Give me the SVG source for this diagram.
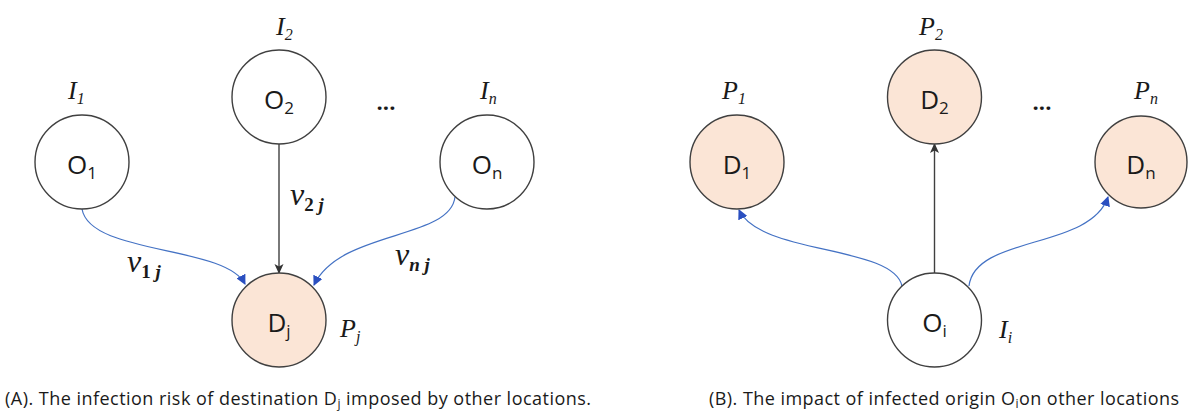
<svg xmlns="http://www.w3.org/2000/svg" width="1188" height="414" viewBox="0 0 1188 414">
  <style>
    .node { stroke: #404040; stroke-width: 1.4; }
    .o { fill: #ffffff; }
    .d { fill: #fbe5d6; }
    .lbl { font-family: "Open Sans", "Liberation Sans", sans-serif; font-size: 26px; fill: #1a1a1a; text-anchor: middle; }
    .sub { font-size: 17px; }
    .math { font-family: "Liberation Serif", serif; font-style: italic; font-size: 26px; fill: #1a1a1a; }
    .msub { font-size: 16px; }
    .vv { font-family: "Liberation Serif", serif; font-style: italic; font-size: 32px; fill: #1a1a1a; }
    .vsub { font-family: "Liberation Serif", serif; font-size: 19px; font-style: normal; font-weight: bold; }
    .vsubi { font-style: italic; }
    .cap { font-family: "Open Sans", "Liberation Sans", sans-serif; font-size: 18px; fill: #1a1a1a; }
    .capsub { font-size: 12px; }
    .dots { font-family: "Open Sans", "Liberation Sans", sans-serif; font-size: 22px; font-weight: bold; fill: #1a1a1a; text-anchor: middle; }
    .blue { fill: none; stroke: #4472c4; stroke-width: 1.2; }
    .black { fill: none; stroke: #404040; stroke-width: 1.4; }
  </style>
  <defs>
    <marker id="ab" markerUnits="userSpaceOnUse" viewBox="0 0 10 10" refX="9" refY="5" markerWidth="10" markerHeight="10" orient="auto">
      <path d="M0,0 L10,5 L0,10 z" fill="#2a4fc0"/>
    </marker>
    <marker id="ak" markerUnits="userSpaceOnUse" viewBox="0 0 10 10" refX="9" refY="5" markerWidth="11" markerHeight="10" orient="auto">
      <path d="M0,0.5 L10,5 L0,9.5 L2.5,5 z" fill="#333333"/>
    </marker>
  </defs>

  <!-- Panel A connectors -->
  <g id="connectors-a">
    <path class="blue" d="M82,209 C90,255 225,245 245,284" marker-end="url(#ab)"/>
    <path class="black" d="M279,144 L279,273" marker-end="url(#ak)"/>
    <path class="blue" d="M455,197 C450,240 340,230 314,285" marker-end="url(#ab)"/>
  </g>

  <!-- Panel A nodes -->
  <g id="node-O1">
    <circle class="node o" cx="82" cy="162" r="47"/>
    <text class="lbl" x="82" y="174">O<tspan class="sub" dy="5">1</tspan></text>
  </g>
  <g id="node-O2">
    <circle class="node o" cx="279" cy="97" r="47"/>
    <text class="lbl" x="279" y="109">O<tspan class="sub" dy="5">2</tspan></text>
  </g>
  <g id="node-On">
    <circle class="node o" cx="487" cy="162" r="47"/>
    <text class="lbl" x="487" y="174">O<tspan class="sub" dy="5">n</tspan></text>
  </g>
  <g id="node-Dj">
    <circle class="node d" cx="279" cy="320" r="47"/>
    <text class="lbl" x="279" y="332">D<tspan class="sub" dy="5">j</tspan></text>
  </g>

  <g id="labels-a">
    <text class="math" x="68" y="99">I<tspan class="msub" dy="5">1</tspan></text>
    <text class="math" x="276" y="35">I<tspan class="msub" dy="5">2</tspan></text>
    <text class="math" x="480" y="99">I<tspan class="msub" dy="5">n</tspan></text>
    <text class="math" x="340" y="337">P<tspan class="msub" dy="5">j</tspan></text>
    <text class="vv" x="127" y="272">v<tspan class="vsub" dy="6">1 <tspan class="vsubi">j</tspan></tspan></text>
    <text class="vv" x="290" y="205">v<tspan class="vsub" dy="6">2 <tspan class="vsubi">j</tspan></tspan></text>
    <text class="vv" x="395" y="265">v<tspan class="vsub" dy="6"><tspan class="vsubi">n j</tspan></tspan></text>
    <text class="dots" x="386" y="110">...</text>
    <text class="cap" x="5" y="405" textLength="586" lengthAdjust="spacing">(A). The infection risk of destination D<tspan class="capsub" dy="3">j</tspan><tspan dy="-3"> imposed by other locations.</tspan></text>
  </g>

  <!-- Panel B connectors -->
  <g id="connectors-b">
    <path class="blue" d="M902,286 C893,245 760,255 739,210" marker-end="url(#ab)"/>
    <path class="black" d="M934.5,273 L934.5,144" marker-end="url(#ak)"/>
    <path class="blue" d="M969,286 C975,235 1090,250 1108,197" marker-end="url(#ab)"/>
  </g>

  <!-- Panel B nodes -->
  <g id="node-D1">
    <circle class="node d" cx="737" cy="162" r="47"/>
    <text class="lbl" x="737" y="174">D<tspan class="sub" dy="5">1</tspan></text>
  </g>
  <g id="node-D2">
    <circle class="node d" cx="934.5" cy="97" r="47"/>
    <text class="lbl" x="934.5" y="109">D<tspan class="sub" dy="5">2</tspan></text>
  </g>
  <g id="node-Dn">
    <circle class="node d" cx="1141" cy="162" r="46"/>
    <text class="lbl" x="1141" y="174">D<tspan class="sub" dy="5">n</tspan></text>
  </g>
  <g id="node-Oi">
    <circle class="node o" cx="934.5" cy="320" r="47"/>
    <text class="lbl" x="934.5" y="332">O<tspan class="sub" dy="5">i</tspan></text>
  </g>

  <g id="labels-b">
    <text class="math" x="722" y="99">P<tspan class="msub" dy="5">1</tspan></text>
    <text class="math" x="919" y="35">P<tspan class="msub" dy="5">2</tspan></text>
    <text class="math" x="1134" y="99">P<tspan class="msub" dy="5">n</tspan></text>
    <text class="math" x="999" y="338">I<tspan class="msub" dy="5">i</tspan></text>
    <text class="dots" x="1042" y="110">...</text>
    <text class="cap" x="709" y="405" textLength="470" lengthAdjust="spacing">(B). The impact of infected origin O<tspan class="capsub" dy="3">i</tspan><tspan dy="-3">on other locations</tspan></text>
  </g>
</svg>
